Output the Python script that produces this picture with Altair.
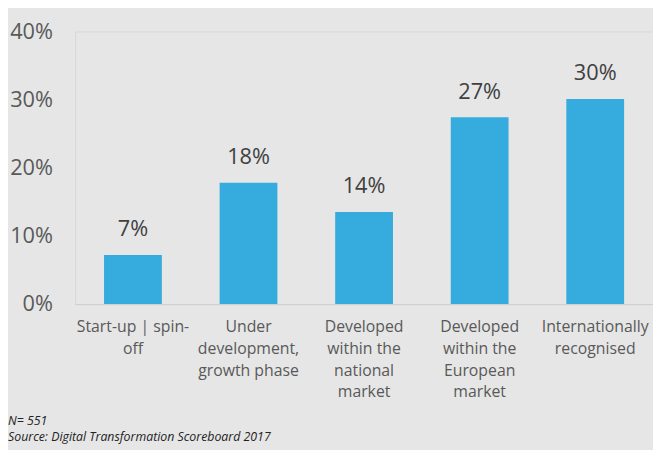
import altair as alt
import pandas as pd

categories = [
    "Start-up | spin-~off",
    "Under~development,~growth phase",
    "Developed~within the~national~market",
    "Developed~within the~European~market",
    "Internationally~recognised",
]
values = [7.2, 17.8, 13.5, 27.4, 30.1]
labels = ["7%", "18%", "14%", "27%", "30%"]
notes = ["N= 551", "Source: Digital Transformation Scoreboard 2017"]

df = pd.DataFrame({"cat": categories, "val": values, "lab": labels})
FONT = "Open Sans"

x = alt.X("cat:N", sort=categories, title=None,
          scale=alt.Scale(paddingInner=0.5, paddingOuter=0.25),
          axis=alt.Axis(labelAngle=0, labelExpr="split(datum.label, '~')",
                        labelFontSize=16, labelColor="#595959", labelFont=FONT,
                        labelLineHeight=22, labelPadding=15, ticks=False,
                        domain=True, domainColor="#cfcfcf", labelBaseline="top",
                        labelLimit=200))
yscale = alt.Scale(domain=[0, 40])
y = alt.Y("val:Q", title=None, scale=yscale,
          axis=alt.Axis(values=[0, 10, 20, 30, 40], labelExpr="datum.value + '%'",
                        labelFontSize=22, labelColor="#595959", labelFont=FONT,
                        labelPadding=23, ticks=False, domain=False, grid=False))

bars = alt.Chart(df).mark_bar(color="#35abde").encode(x=x, y=y)
text = alt.Chart(df).mark_text(dy=-14, baseline="bottom", fontSize=22,
                               color="#404040", font=FONT).encode(
    x=alt.X("cat:N", sort=categories),
    y=alt.Y("val:Q", scale=yscale), text="lab:N")

ndf1 = pd.DataFrame({"t": [notes[0]]})
ndf2 = pd.DataFrame({"t": [notes[1]]})
note1 = alt.Chart(ndf1).mark_text(align="left", baseline="middle", fontSize=12.5,
                                  fontStyle="italic", color="#222222", font=FONT).encode(
    x=alt.value(-68), y=alt.value(394), text="t:N")
note2 = alt.Chart(ndf2).mark_text(align="left", baseline="middle", fontSize=12.5,
                                  fontStyle="italic", color="#222222", font=FONT).encode(
    x=alt.value(-68), y=alt.value(411), text="t:N")

chart = alt.layer(bars, text, note1, note2).properties(
    width=585, height=276,
    autosize=alt.AutoSizeParams(type="none"),
    padding={"left": 68, "top": 21, "right": 0, "bottom": 145},
    background="#e6e6e6",
).configure_view(stroke="#d6d6d6", strokeWidth=1)

chart.save("out.html", embed_options={"renderer": "svg", "actions": False})
